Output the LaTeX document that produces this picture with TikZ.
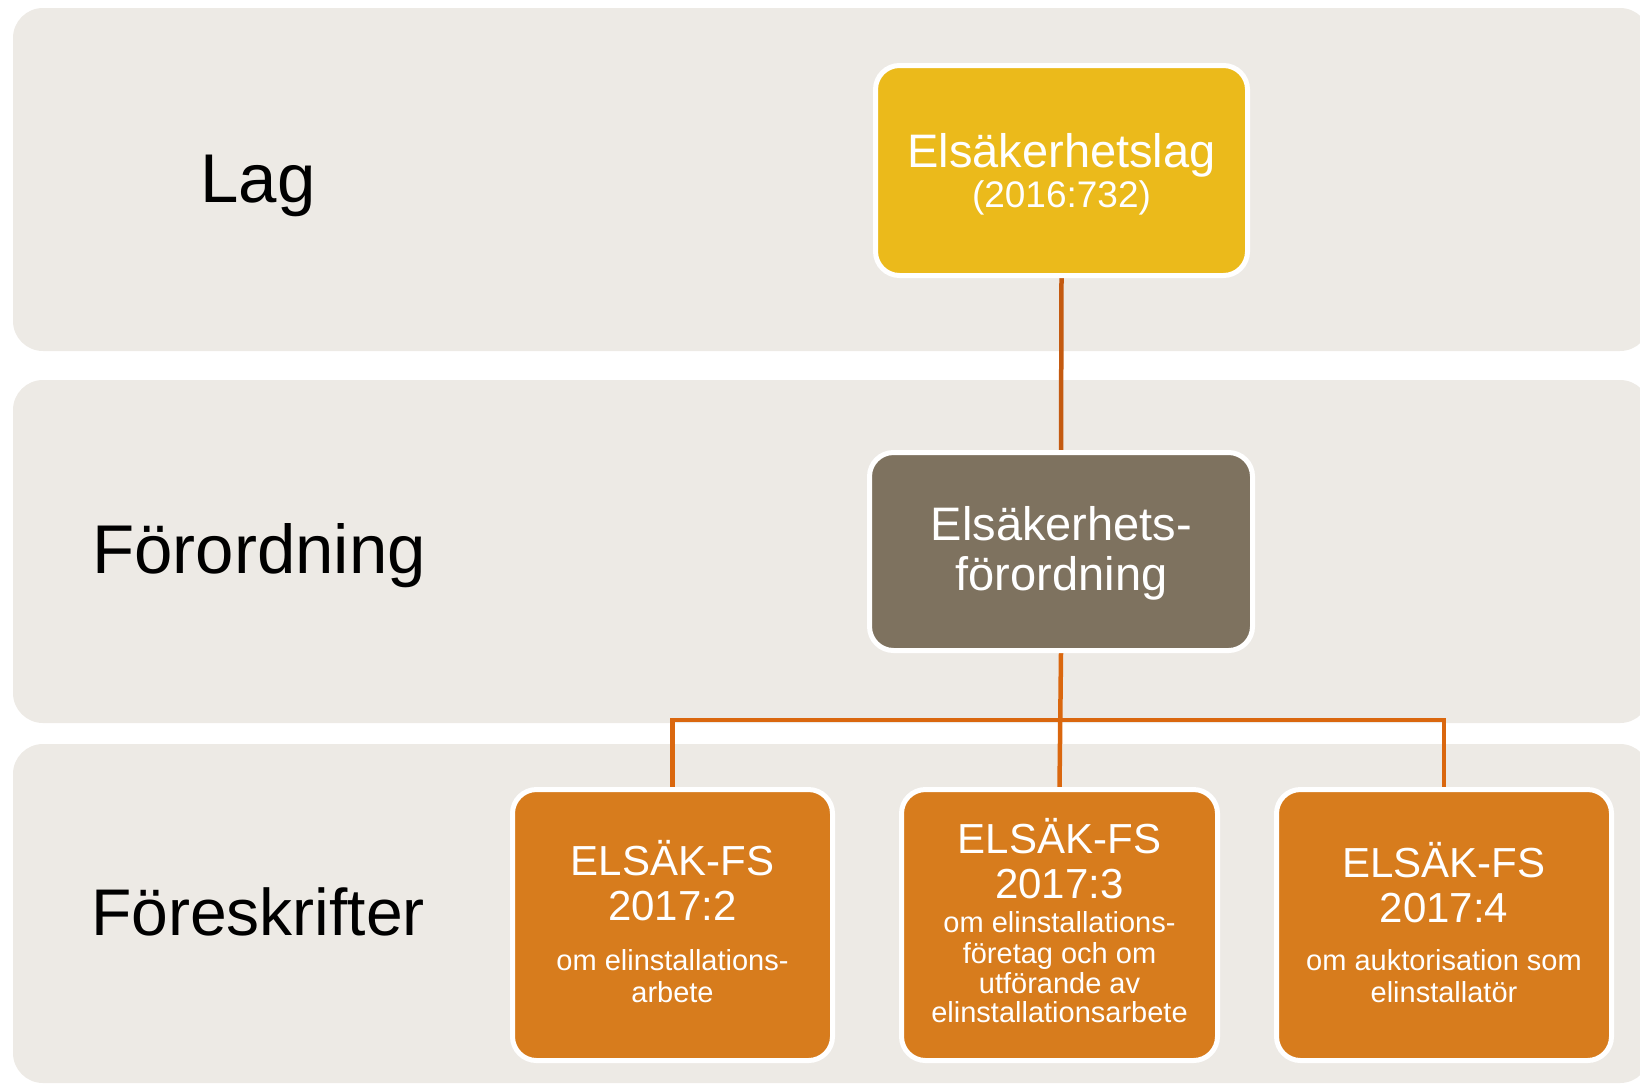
\documentclass[tikz,border=0pt]{standalone}
\usepackage{fontspec}
\setmainfont{Liberation Sans}
\definecolor{bandgray}{HTML}{EDEAE5}
\definecolor{lagyellow}{HTML}{EBBA1B}
\definecolor{forbrown}{HTML}{7E725F}
\definecolor{fsorange}{HTML}{D77C1D}
\definecolor{conntop}{HTML}{C45A10}
\definecolor{connbot}{HTML}{DA670E}
\tikzset{
  band/.style={fill=bandgray, draw=none, rounded corners=30pt},
  boxbase/.style={draw=white, line width=5pt, rounded corners=24pt, inner sep=0pt},
  lagbox/.style={boxbase, fill=lagyellow},
  forbox/.style={boxbase, fill=forbrown},
  fsbox/.style={boxbase, fill=fsorange, minimum width=#1, minimum height=271pt},
  bandlabel/.style={anchor=base, inner sep=0pt, text=black},
  boxtext/.style={anchor=base, inner sep=0pt, text=white, align=center},
  conn/.style={line width=4.5pt, line join=miter},
}
\begin{document}
\begin{tikzpicture}[x=1pt, y=-1pt]
\useasboundingbox (0,0) rectangle (1640,1085);
% bands
\fill[band] (13,8) rectangle (1650,351);
\fill[band] (13,380) rectangle (1650,723);
\fill[band] (13,744) rectangle (1650,1083);
% band labels
\node[bandlabel, font=\fontsize{69}{72}\selectfont] (lLag) at (258,202) {Lag};
\node[bandlabel, font=\fontsize{69}{72}\selectfont] (lFor) at (259,573) {Förordning};
\node[bandlabel, font=\fontsize{66}{70}\selectfont] (lFs) at (258,935) {Föreskrifter};
% box shapes (positions)
\coordinate (ctop) at (1061.5,170.5);
\coordinate (cmid) at (1061,551.5);
\coordinate (cb1) at (672.5,925);
\coordinate (cb2) at (1059.5,925);
\coordinate (cb3) at (1444,925);
\coordinate (junction) at (1061,720);
% invisible placeholders to get anchors for connectors
\path (ctop) node[lagbox, draw=none, fill=none, minimum width=372pt, minimum height=210pt] (top) {};
\path (cmid) node[forbox, draw=none, fill=none, minimum width=383pt, minimum height=198pt] (mid) {};
\path (cb1) node[fsbox=320pt, draw=none, fill=none] (b1) {};
\path (cb2) node[fsbox=316pt, draw=none, fill=none] (b2) {};
\path (cb3) node[fsbox=335pt, draw=none, fill=none] (b3) {};
% connectors
\draw[conn, conntop] (top.south) -- (mid.north);
\draw[conn, connbot] (mid.south) -- (b2.north);
\draw[conn, connbot] (b1.north) |- (junction) -| (b3.north);
% boxes
\node[lagbox, minimum width=372pt, minimum height=210pt] (topbox) at (ctop) {};
\node[forbox, minimum width=383pt, minimum height=198pt] (midbox) at (cmid) {};
\node[fsbox=320pt] (b1box) at (cb1) {};
\node[fsbox=316pt] (b2box) at (cb2) {};
\node[fsbox=335pt] (b3box) at (cb3) {};
% texts
\node[boxtext, font=\fontsize{47}{50}\selectfont] (tTop1) at (1061.5,167) {Elsäkerhetslag};
\node[boxtext, font=\fontsize{37}{40}\selectfont] (tTop2) at (1061.5,207) {(2016:732)};
\node[boxtext, font=\fontsize{47}{50}\selectfont] (tMid1) at (1061.5,540) {Elsäkerhets-};
\node[boxtext, font=\fontsize{47}{50}\selectfont] (tMid2) at (1061.5,590) {förordning};
% box 1
\node[boxtext, font=\fontsize{42}{45}\selectfont] (t1a) at (672.5,875) {ELSÄK-FS};
\node[boxtext, font=\fontsize{42}{45}\selectfont] (t1b) at (672.5,920) {2017:2};
\node[boxtext, font=\fontsize{29}{31}\selectfont] (t1c) at (672.5,970) {om elinstallations-};
\node[boxtext, font=\fontsize{29}{31}\selectfont] (t1d) at (672.5,1002) {arbete};
% box 2
\node[boxtext, font=\fontsize{42}{45}\selectfont] (t2a) at (1059.5,853) {ELSÄK-FS};
\node[boxtext, font=\fontsize{42}{45}\selectfont] (t2b) at (1059.5,898) {2017:3};
\node[boxtext, font=\fontsize{29}{31}\selectfont] (t2c) at (1059.5,932) {om elinstallations-};
\node[boxtext, font=\fontsize{29}{31}\selectfont] (t2d) at (1059.5,963) {företag och om};
\node[boxtext, font=\fontsize{29}{31}\selectfont] (t2e) at (1059.5,993) {utförande av};
\node[boxtext, font=\fontsize{29}{31}\selectfont] (t2f) at (1059.5,1022) {elinstallationsarbete};
% box 3
\node[boxtext, font=\fontsize{42}{45}\selectfont] (t3a) at (1444,877) {ELSÄK-FS};
\node[boxtext, font=\fontsize{42}{45}\selectfont] (t3b) at (1444,922) {2017:4};
\node[boxtext, font=\fontsize{29}{31}\selectfont] (t3c) at (1444,970) {om auktorisation som};
\node[boxtext, font=\fontsize{29}{31}\selectfont] (t3d) at (1444,1002) {elinstallatör};
\end{tikzpicture}
\end{document}
